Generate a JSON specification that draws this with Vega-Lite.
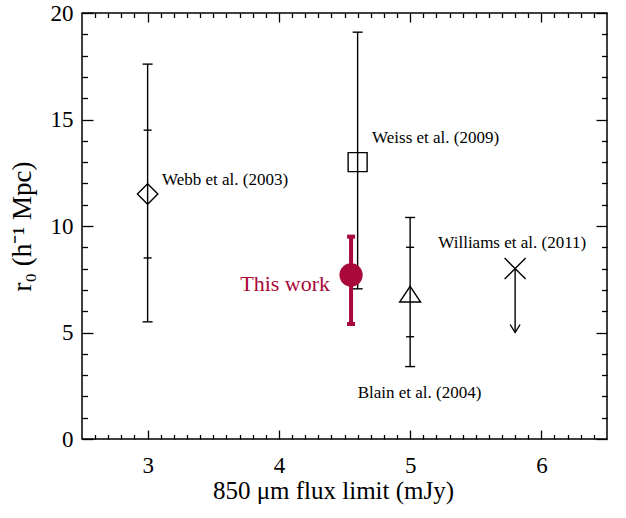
{
  "$schema": "https://vega.github.io/schema/vega-lite/v6.json",
  "width": 525,
  "height": 426,
  "autosize": {"type": "none"},
  "padding": {"left": 82, "top": 13, "right": 19, "bottom": 79},
  "background": "white",
  "config": {
    "view": {"stroke": "black", "strokeWidth": 1.5},
    "font": "Liberation Serif",
    "axis": {"grid": false, "domain": false, "tickColor": "black", "tickWidth": 1.3, "labelColor": "black", "titleColor": "black", "labelFontSize": 23, "titleFontSize": 25, "titleFontWeight": "normal"}
  },
  "datasets": {
    "pts": [
      {"src": "Webb et al. (2003)", "x": 3.0, "r0": 11.5, "lo": 5.5, "hi": 17.6, "lo2": 8.5, "hi2": 14.5},
      {"src": "Weiss et al. (2009)", "x": 4.6, "r0": 13.0, "lo": 7.05, "hi": 19.1},
      {"src": "Blain et al. (2004)", "x": 5.0, "r0": 6.8, "lo": 3.4, "hi": 10.4, "lo2": 4.8, "hi2": 9.0},
      {"src": "Williams et al. (2011)", "x": 5.8, "r0": 8.0, "lo": 5.0, "hi": 8.0},
      {"src": "This work", "x": 4.55, "r0": 7.7, "lo": 5.4, "hi": 9.5}
    ],
    "labels": [
      {"label": "Webb et al. (2003)", "x": 3.11, "y": 12.15},
      {"label": "Weiss et al. (2009)", "x": 4.71, "y": 14.15},
      {"label": "Williams et al. (2011)", "x": 5.215, "y": 9.2},
      {"label": "Blain et al. (2004)", "x": 4.6, "y": 2.15}
    ],
    "thiswork": [
      {"label": "This work", "x": 4.39, "y": 7.3}
    ]
  },
  "resolve": {"axis": {"x": "independent", "y": "independent"}},
  "layer": [
    {
      "data": {"name": "pts"},
      "mark": {"type": "point", "opacity": 0},
      "encoding": {
        "x": {"field": "x", "type": "quantitative", "scale": {"domain": [2.5, 6.5], "nice": false, "zero": false},
              "axis": {"orient": "bottom", "values": [3, 4, 5, 6], "tickSize": -9, "labelPadding": 24, "labelFont": "Liberation Serif", "titleFont": "Liberation Serif", "title": "850 μm flux limit (mJy)", "titlePadding": 1, "titleX": 251}},
        "y": {"field": "r0", "type": "quantitative", "scale": {"domain": [0, 20], "nice": false, "zero": false},
              "axis": {"orient": "left", "values": [0, 5, 10, 15, 20], "tickSize": -11, "labelPadding": 20, "labelFont": "Liberation Serif", "titleFont": "Liberation Serif", "title": "r₀ (h⁻¹ Mpc)", "titleFontSize": 27, "titlePadding": 14}}
      }
    },
    {
      "data": {"name": "pts"},
      "mark": {"type": "point", "opacity": 0},
      "encoding": {
        "x": {"field": "x", "type": "quantitative",
              "axis": {"orient": "bottom", "values": [2.6, 2.7, 2.8, 2.9, 3.1, 3.2, 3.3, 3.4, 3.5, 3.6, 3.7, 3.8, 3.9, 4.1, 4.2, 4.3, 4.4, 4.5, 4.6, 4.7, 4.8, 4.9, 5.1, 5.2, 5.3, 5.4, 5.5, 5.6, 5.7, 5.8, 5.9, 6.1, 6.2, 6.3, 6.4], "tickSize": -4.5, "labels": false, "title": null}},
        "y": {"field": "r0", "type": "quantitative",
              "axis": {"orient": "left", "values": [1, 2, 3, 4, 6, 7, 8, 9, 11, 12, 13, 14, 16, 17, 18, 19], "tickSize": -5.5, "labels": false, "title": null}}
      }
    },
    {
      "data": {"name": "pts"},
      "mark": {"type": "point", "opacity": 0},
      "encoding": {
        "x": {"field": "x", "type": "quantitative",
              "axis": {"orient": "top", "values": [3, 4, 5, 6], "tickSize": -9, "labels": false, "title": null}},
        "y": {"field": "r0", "type": "quantitative",
              "axis": {"orient": "right", "values": [0, 5, 10, 15, 20], "tickSize": -11, "labels": false, "title": null}}
      }
    },
    {
      "data": {"name": "pts"},
      "mark": {"type": "point", "opacity": 0},
      "encoding": {
        "x": {"field": "x", "type": "quantitative",
              "axis": {"orient": "top", "values": [2.6, 2.7, 2.8, 2.9, 3.1, 3.2, 3.3, 3.4, 3.5, 3.6, 3.7, 3.8, 3.9, 4.1, 4.2, 4.3, 4.4, 4.5, 4.6, 4.7, 4.8, 4.9, 5.1, 5.2, 5.3, 5.4, 5.5, 5.6, 5.7, 5.8, 5.9, 6.1, 6.2, 6.3, 6.4], "tickSize": -4.5, "labels": false, "title": null}},
        "y": {"field": "r0", "type": "quantitative",
              "axis": {"orient": "right", "values": [1, 2, 3, 4, 6, 7, 8, 9, 11, 12, 13, 14, 16, 17, 18, 19], "tickSize": -5.5, "labels": false, "title": null}}
      }
    },
    {
      "data": {"name": "pts"},
      "transform": [{"filter": "datum.src !== 'This work'"}],
      "mark": {"type": "rule", "color": "black", "strokeWidth": 1.4},
      "encoding": {
        "x": {"field": "x", "type": "quantitative", "axis": null},
        "y": {"field": "lo", "type": "quantitative", "axis": null},
        "y2": {"field": "hi"}
      }
    },
    {
      "data": {"name": "pts"},
      "transform": [
        {"filter": "datum.src !== 'This work' && datum.src !== 'Williams et al. (2011)'"},
        {"fold": ["lo", "hi"], "as": ["end", "val"]}
      ],
      "mark": {"type": "tick", "orient": "horizontal", "color": "black", "size": 10, "thickness": 1.4, "opacity": 1},
      "encoding": {
        "x": {"field": "x", "type": "quantitative", "axis": null},
        "y": {"field": "val", "type": "quantitative", "axis": null}
      }
    },
    {
      "data": {"name": "pts"},
      "transform": [
        {"filter": "isValid(datum.lo2)"},
        {"fold": ["lo2", "hi2"], "as": ["end", "val"]}
      ],
      "mark": {"type": "tick", "orient": "horizontal", "color": "black", "size": 8, "thickness": 1.4, "opacity": 1},
      "encoding": {
        "x": {"field": "x", "type": "quantitative", "axis": null},
        "y": {"field": "val", "type": "quantitative", "axis": null}
      }
    },
    {
      "data": {"name": "pts"},
      "transform": [{"filter": "datum.src === 'Webb et al. (2003)'"}],
      "mark": {"type": "point", "shape": "M0,-1L1,0L0,1L-1,0Z", "size": 420, "filled": false, "color": "black", "strokeWidth": 1.4, "opacity": 1},
      "encoding": {
        "x": {"field": "x", "type": "quantitative", "axis": null},
        "y": {"field": "r0", "type": "quantitative", "axis": null}
      }
    },
    {
      "data": {"name": "pts"},
      "transform": [{"filter": "datum.src === 'Weiss et al. (2009)'"}],
      "mark": {"type": "point", "shape": "M-1,-1L1,-1L1,1L-1,1Z", "size": 361, "filled": false, "color": "black", "strokeWidth": 1.4, "opacity": 1},
      "encoding": {
        "x": {"field": "x", "type": "quantitative", "axis": null},
        "y": {"field": "r0", "type": "quantitative", "axis": null}
      }
    },
    {
      "data": {"name": "pts"},
      "transform": [{"filter": "datum.src === 'Blain et al. (2004)'"}],
      "mark": {"type": "point", "shape": "M0,-0.75L1,0.75L-1,0.75Z", "size": 440, "filled": false, "color": "black", "strokeWidth": 1.4, "opacity": 1},
      "encoding": {
        "x": {"field": "x", "type": "quantitative", "axis": null},
        "y": {"field": "r0", "type": "quantitative", "axis": null}
      }
    },
    {
      "data": {"name": "pts"},
      "transform": [{"filter": "datum.src === 'Williams et al. (2011)'"}],
      "mark": {"type": "point", "shape": "M-1,-1L1,1M-1,1L1,-1", "size": 441, "filled": false, "color": "black", "strokeWidth": 1.4, "opacity": 1},
      "encoding": {
        "x": {"field": "x", "type": "quantitative", "axis": null},
        "y": {"field": "r0", "type": "quantitative", "axis": null}
      }
    },
    {
      "data": {"name": "pts"},
      "transform": [{"filter": "datum.src === 'Williams et al. (2011)'"}],
      "mark": {"type": "point", "shape": "M-1,-1.6L0,0L1,-1.6", "size": 100, "filled": false, "color": "black", "strokeWidth": 1.4, "opacity": 1},
      "encoding": {
        "x": {"field": "x", "type": "quantitative", "axis": null},
        "y": {"field": "lo", "type": "quantitative", "axis": null}
      }
    },
    {
      "data": {"name": "pts"},
      "transform": [{"filter": "datum.src === 'This work'"}],
      "mark": {"type": "rule", "color": "#a8083a", "strokeWidth": 4},
      "encoding": {
        "x": {"field": "x", "type": "quantitative", "axis": null},
        "y": {"field": "lo", "type": "quantitative", "axis": null},
        "y2": {"field": "hi"}
      }
    },
    {
      "data": {"name": "pts"},
      "transform": [
        {"filter": "datum.src === 'This work'"},
        {"fold": ["lo", "hi"], "as": ["end", "val"]}
      ],
      "mark": {"type": "tick", "orient": "horizontal", "color": "#a8083a", "size": 8, "thickness": 4, "opacity": 1},
      "encoding": {
        "x": {"field": "x", "type": "quantitative", "axis": null},
        "y": {"field": "val", "type": "quantitative", "axis": null}
      }
    },
    {
      "data": {"name": "pts"},
      "transform": [{"filter": "datum.src === 'This work'"}],
      "mark": {"type": "point", "shape": "circle", "size": 540, "filled": true, "color": "#a8083a", "opacity": 1},
      "encoding": {
        "x": {"field": "x", "type": "quantitative", "axis": null},
        "y": {"field": "r0", "type": "quantitative", "axis": null}
      }
    },
    {
      "data": {"name": "labels"},
      "mark": {"type": "text", "align": "left", "baseline": "middle", "font": "Liberation Serif", "fontSize": 17, "color": "black"},
      "encoding": {
        "x": {"field": "x", "type": "quantitative", "axis": null},
        "y": {"field": "y", "type": "quantitative", "axis": null},
        "text": {"field": "label"}
      }
    },
    {
      "data": {"name": "thiswork"},
      "mark": {"type": "text", "align": "right", "baseline": "middle", "font": "Liberation Serif", "fontSize": 22, "color": "#a8083a"},
      "encoding": {
        "x": {"field": "x", "type": "quantitative", "axis": null},
        "y": {"field": "y", "type": "quantitative", "axis": null},
        "text": {"field": "label"}
      }
    }
  ]
}
